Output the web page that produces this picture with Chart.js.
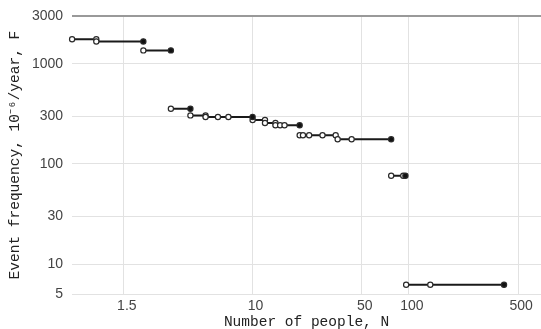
<!DOCTYPE html>
<html>
<head>
    <title>F-N curve</title>
    <script src="https://cdn.jsdelivr.net/npm/chart.js"></script>
    <style>
        body { margin: 0; background: #fff; }
        .wrap { width: 541px; height: 329px; }
    </style>
</head>
<body>
    <div class="wrap">
        <canvas id="fnChart" width="541" height="329"></canvas>
    </div>

    <script>
        // step segments: number of people N and frequency F (10^-6/year)
        const segN1 = [0.7, 1, 1, 2];
        const segF1 = [1760, 1760, 1670, 1670];
        const segN2 = [2, 3];
        const segF2 = [1360, 1360];
        const segN3 = [3, 4];
        const segF3 = [355, 355];
        const segN4 = [4, 5, 5, 6, 7, 10];
        const segF4 = [305, 305, 294, 294, 294, 294];
        const segN5 = [10, 12, 12, 14, 14, 15, 16, 20];
        const segF5 = [274, 274, 256, 256, 243, 243, 243, 243];
        const segN6 = [20, 21, 23, 28, 34, 35, 43, 77];
        const segF6 = [193, 193, 193, 193, 193, 176, 176, 176];
        const segN7 = [77, 92, 95];
        const segF7 = [76, 76, 76];
        const segN8 = [96, 137, 406];
        const segF8 = [6.2, 6.2, 6.2];

        const xTicks = [1.5, 10, 50, 100, 500];
        const yTicks = [5, 10, 30, 100, 300, 1000, 3000];

        const segments = [
            [segN1, segF1], [segN2, segF2], [segN3, segF3], [segN4, segF4],
            [segN5, segF5], [segN6, segF6], [segN7, segF7], [segN8, segF8]
        ];

        // last point of each step is the closed end
        const datasets = segments.map(([n, f]) => ({
            data: n.map((v, i) => ({ x: v, y: f[i] })),
            borderColor: '#1a1a1a',
            borderWidth: 2,
            pointRadius: 2.6,
            pointBorderWidth: 1.2,
            pointBorderColor: '#2a2a2a',
            pointBackgroundColor: ctx => ctx.dataIndex === n.length - 1 ? '#111' : '#fff',
            clip: 6
        }));

        new Chart(document.getElementById('fnChart'), {
            type: 'line',
            data: { datasets: datasets },
            options: {
                responsive: false,
                animation: false,
                layout: { autoPadding: false, padding: { top: 4, right: 0, left: 7, bottom: 0 } },
                plugins: { legend: { display: false }, tooltip: { enabled: false } },
                scales: {
                    x: {
                        type: 'logarithmic',
                        min: 0.7,
                        max: 700,
                        afterBuildTicks: axis => { axis.ticks = xTicks.map(v => ({ value: v })); },
                        // plot runs to the right edge of the picture
                        afterFit: axis => { axis.paddingRight = 0; axis.paddingLeft = 0; },
                        ticks: {
                            callback: v => String(v),
                            color: '#444',
                            font: { family: 'Liberation Sans, Arial', size: 14 },
                            maxRotation: 0,
                            autoSkip: false,
                            labelOffset: 3,
                            padding: 4
                        },
                        grid: { color: '#e2e2e2', lineWidth: 1, drawTicks: false },
                        border: { display: false },
                        title: {
                            display: true,
                            text: 'Number of people, N',
                            color: '#222',
                            font: { family: 'Liberation Mono, Courier New', size: 14.5, lineHeight: 0.9 },
                            padding: { top: -3, bottom: 0 }
                        }
                    },
                    y: {
                        type: 'logarithmic',
                        min: 5,
                        max: 3000,
                        afterBuildTicks: axis => { axis.ticks = yTicks.map(v => ({ value: v })); },
                        ticks: {
                            callback: v => String(v),
                            color: '#444',
                            font: { family: 'Liberation Sans, Arial', size: 14, lineHeight: 1 },
                            autoSkip: false,
                            padding: 9
                        },
                        grid: {
                            color: ctx => ctx.tick && ctx.tick.value === 3000 ? '#999' : '#e2e2e2',
                            lineWidth: ctx => ctx.tick && ctx.tick.value === 3000 ? 2 : 1,
                            drawTicks: false
                        },
                        border: { display: false },
                        title: {
                            display: true,
                            text: 'Event frequency, 10⁻⁶/year, F',
                            color: '#222',
                            font: { family: 'Liberation Mono, Courier New', size: 14.5, lineHeight: 1.1 },
                            padding: { top: 0, bottom: 0 }
                        }
                    }
                }
            }
        });
    </script>
</body>
</html>
